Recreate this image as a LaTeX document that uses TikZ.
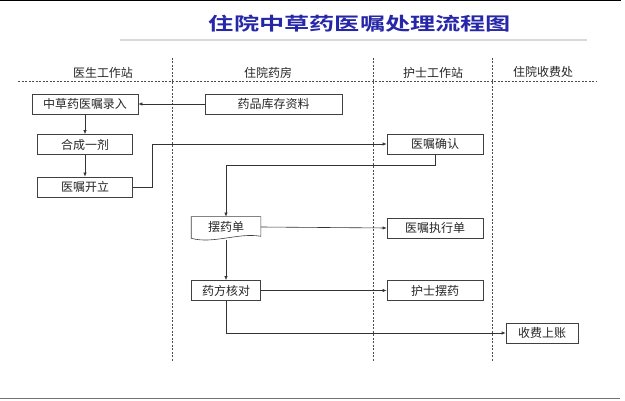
\documentclass[tikz,border=0pt]{standalone}
\usepackage{fontspec}
\setmainfont{Liberation Sans}
\newfontfamily\cjk{Noto Sans CJK SC}
\newfontfamily\cjktitle{Noto Sans CJK SC Bold}
\usepackage{xcolor}
\usepackage{tikz}
\usetikzlibrary{arrows.meta}
\definecolor{titleblue}{RGB}{38,38,168}

\begin{document}
\begin{tikzpicture}[x=1pt,y=-1pt,
  box/.style={draw=black!75,line width=0.6pt,font=\cjk\fontsize{12}{14}\selectfont,text=black!85,minimum height=20pt,inner sep=0pt},
  lane/.style={font=\cjk\fontsize{12}{14}\selectfont,text=black!85},
  link/.style={draw=black!80,line width=0.6pt,-{Latex[length=4pt,width=3.2pt]}},
  sep/.style={draw=black!70,line width=0.6pt,dash pattern=on 2pt off 1.5pt}]
\useasboundingbox (0,0) rectangle (625,401);

% Frame
\draw[line width=1.5pt] (0,0.75) -- (621,0.75);
\draw[black!55,line width=1pt] (0,399) -- (620,399);

% Title
\node[font=\cjktitle\fontsize{18}{20}\selectfont,text=titleblue,xscale=1.4] (title) at (360,24) {住院中草药医嘱处理流程图};
\draw[black!15,line width=1.5pt] (120,40) -- (587,40);

% Lanes
\node[lane] (doctor) at (103,73) {医生工作站};
\node[lane] (pharmacy) at (268,73) {住院药房};
\node[lane] (nurse) at (433,73) {护士工作站};
\node[lane] (cashier) at (543,72) {住院收费处};

\draw[sep] (18,81) -- (597,81);
\draw[sep] (172,58) -- (172,361);
\draw[sep] (373,58) -- (373,361);
\draw[sep] (492,58) -- (492,361);

% Doctor station
\node[box,minimum width=106pt] (entry) at (85,104) {中草药医嘱录入};
\node[box,minimum width=95pt] (dose) at (85,144.5) {合成一剂};
\node[box,minimum width=95pt] (order) at (85,187) {医嘱开立};

% Pharmacy
\node[box,minimum width=137pt] (stock) at (273.5,104) {药品库存资料};
\node[box,draw=none,minimum width=69pt] (slip) at (226,227) {摆药单};
\draw[black!75,line width=0.6pt] (slip.north west) -- (slip.north east) -- ([yshift=1pt]slip.south east)
  .. controls ([xshift=-22pt,yshift=5pt]slip.south east) and ([xshift=22pt,yshift=-7pt]slip.south west) .. ([yshift=-1pt]slip.south west) -- cycle;
\node[box,minimum width=69pt] (check) at (226,290.5) {药方核对};

% Nurse station
\node[box,minimum width=96pt] (confirm) at (435,144) {医嘱确认};
\node[box,minimum width=96pt] (execute) at (435,228) {医嘱执行单};
\node[box,minimum width=96pt] (dispense) at (435,290.5) {护士摆药};

% Cashier
\node[box,minimum width=72pt] (billing) at (542,333) {收费上账};

% Flow
\draw[link] (stock) -- (entry);
\draw[link] (entry) -- (dose);
\draw[link] (dose) -- (order);
\draw[link] (order.east) -- ++(19,0) |- (confirm.west);
\draw[link] (confirm.south) -- ++(0,11) -| (slip.north);
\draw[link] (slip.east) -- (execute.west);
\draw[link] ([yshift=-3pt]slip.south) -- (check.north);
\draw[link] (check) -- (dispense);
\draw[link] (check.south) |- (billing.west);
\end{tikzpicture}
\end{document}
